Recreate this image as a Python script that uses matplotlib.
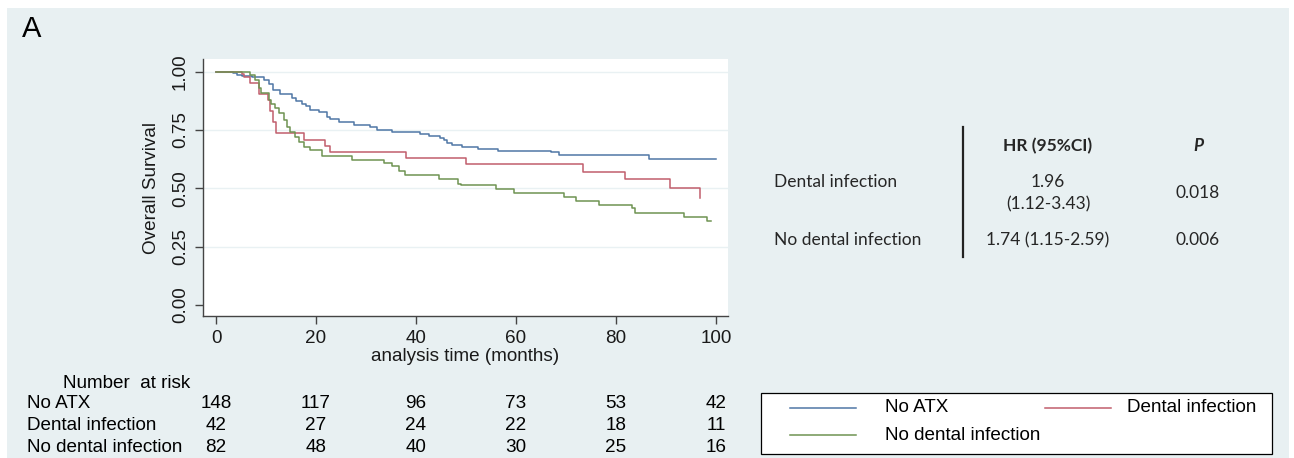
import matplotlib
matplotlib.use("Agg")
import matplotlib.pyplot as plt
import matplotlib.transforms as mtransforms
from matplotlib.patches import Rectangle
from matplotlib.lines import Line2D

W, H = 1294, 458

# Kaplan-Meier steps (months, survival)
t_noatx = [0, 3.3, 4.2, 5.1, 7.1, 9.5, 10.5, 11.3, 12.8, 15.1, 16.0, 17.1, 18.0, 18.8, 20.5,
           22.1, 22.8, 24.5, 27.5, 30.8, 32.1, 35.1, 40.8, 42.5, 44.9, 45.5, 46.3, 47.1,
           49.1, 52.5, 56.5, 67.1, 68.5, 86.5, 100]
s_noatx = [1.0, 0.993, 0.987, 0.981, 0.977, 0.963, 0.949, 0.92, 0.906, 0.888, 0.874, 0.86,
           0.852, 0.835, 0.827, 0.806, 0.799, 0.785, 0.771, 0.764, 0.750, 0.741, 0.732,
           0.724, 0.714, 0.705, 0.695, 0.686, 0.677, 0.668, 0.662, 0.655, 0.642, 0.624, 0.624]

t_dental = [0, 5.1, 5.6, 6.8, 8.5, 10.3, 10.8, 11.3, 12.0, 17.5, 21.8, 22.8, 38.0, 50.0,
            73.3, 81.7, 90.7, 96.8, 96.8]
s_dental = [1.0, 0.99, 0.976, 0.952, 0.905, 0.88, 0.833, 0.786, 0.735, 0.708, 0.682, 0.655,
            0.628, 0.603, 0.571, 0.540, 0.500, 0.500, 0.457]

t_nodental = [0, 6.8, 7.8, 8.5, 9.0, 10.5, 11.0, 11.8, 12.5, 13.5, 14.1, 14.8, 15.8, 16.5,
              17.5, 18.8, 21.1, 27.1, 33.5, 35.1, 36.5, 37.8, 44.5, 48.5, 49.0, 56.0, 59.5,
              69.6, 71.9, 76.6, 83.3, 83.8, 93.5, 98.3, 99.1]
s_nodental = [1.0, 0.986, 0.964, 0.928, 0.907, 0.878, 0.862, 0.843, 0.821, 0.793, 0.764,
              0.743, 0.718, 0.700, 0.676, 0.665, 0.639, 0.622, 0.608, 0.594, 0.573, 0.555,
              0.541, 0.517, 0.513, 0.495, 0.482, 0.464, 0.447, 0.430, 0.414, 0.396, 0.376,
              0.360, 0.360]

groups = ["No ATX", "Dental infection", "No dental infection"]
risk_times = [0, 20, 40, 60, 80, 100]
risk_noatx = [148, 117, 96, 73, 53, 42]
risk_dental = [42, 27, 24, 22, 18, 11]
risk_nodental = [82, 48, 40, 30, 25, 16]

hr_rows = ["Dental infection", "No dental infection"]
hr_text = ["1.96\n(1.12-3.43)", "1.74 (1.15-2.59)"]
p_text = ["0.018", "0.006"]

c_blue = "#4f77a6"
c_red = "#c15e6c"
c_green = "#6f9352"
bg = "#e8f0f2"
fs = 13.6

def fx(px):
    return px / W

def fy(py):
    return 1 - py / H

plt.rcParams["font.family"] = ["Liberation Sans", "DejaVu Sans"]

fig = plt.figure(figsize=(W / 100, H / 100), dpi=100)
fig.patches.append(Rectangle((fx(7), 0), fx(1289) - fx(7), fy(8), transform=fig.transFigure,
                             facecolor=bg, edgecolor="none", zorder=-10))

ax = fig.add_axes([fx(203), fy(316), fx(728) - fx(203), fy(59) - fy(316)])
ax.set_zorder(1)
ax.set_facecolor("white")
ax.set_xlim(-2.6, 102.4)
ax.set_ylim(-0.047, 1.054)
for yv in [0.25, 0.5, 0.75, 1.0]:
    ax.axhline(yv, color="#e9f1f3", lw=1.0, zorder=1)

l1, = ax.step(t_noatx, s_noatx, where="post", color=c_blue, lw=1.1, zorder=3)
l2, = ax.step(t_dental, s_dental, where="post", color=c_red, lw=1.1, zorder=3)
l3, = ax.step(t_nodental, s_nodental, where="post", color=c_green, lw=1.1, zorder=3)

ax.spines["top"].set_visible(False)
ax.spines["right"].set_visible(False)
for sp in ["left", "bottom"]:
    ax.spines[sp].set_color("#444444")
    ax.spines[sp].set_linewidth(1.0)
ax.set_xticks(risk_times)
ax.set_yticks([0, 0.25, 0.5, 0.75, 1.0])
ax.set_yticklabels(["0.00", "0.25", "0.50", "0.75", "1.00"], rotation=90, va="center")
ax.tick_params(axis="both", direction="out", length=6, width=1, color="#444444",
               labelsize=fs, labelcolor="#1a1a1a", pad=4)
ax.set_xlabel("analysis time (months)", fontsize=fs, color="#1a1a1a", labelpad=1)
ax.set_ylabel("Overall Survival", fontsize=fs, color="#1a1a1a", labelpad=9)

fig.text(fx(22), fy(29), "A", fontsize=21, va="center", ha="left")

# number at risk table
blend = mtransforms.blended_transform_factory(ax.transData, fig.transFigure)
fig.text(fx(127), fy(383), "Number  at risk", fontsize=fs, ha="center", va="center")
row_y = [404, 426, 448]
for name, counts, yy in zip(groups, [risk_noatx, risk_dental, risk_nodental], row_y):
    fig.text(fx(27), fy(yy), name, fontsize=fs, ha="left", va="center")
    for tt, n in zip(risk_times, counts):
        ax.text(tt, fy(yy), str(n), transform=blend, fontsize=fs, ha="center", va="center",
                clip_on=False)

# legend (Stata style: fixed box, keys laid out by hand)
fig.patches.append(Rectangle((fx(761), fy(454)), fx(1272) - fx(761), fy(393) - fy(454),
                             transform=fig.transFigure, facecolor="white",
                             edgecolor="black", lw=0.9, zorder=2))
key_pos = [(790, 408), (1045, 408), (790, 435)]
for line, name, (kx, ky) in zip([l1, l2, l3], groups, key_pos):
    fig.add_artist(Line2D([fx(kx), fx(kx + 66)], [fy(ky), fy(ky)], color=line.get_color(),
                          lw=line.get_linewidth(), zorder=3))
    tx = kx + 95 if kx < 900 else kx + 82
    fig.text(fx(tx), fy(ky), name, fontsize=fs, ha="left", va="center", zorder=3)

# hazard ratio table
tfont = ["Lato", "DejaVu Sans"]
tc = "#262626"
fig.add_artist(Line2D([fx(963), fx(963)], [fy(127), fy(257)], color="#222222", lw=1.6))
fig.text(fx(1048), fy(146), "HR (95%CI)", fontsize=12.5, fontweight="bold",
         ha="center", va="center", family=tfont, color=tc)
fig.text(fx(1198), fy(146), "P", fontsize=12.5, fontweight="bold", style="italic",
         ha="center", va="center", family=tfont, color=tc)
for name, hr, p, yy in zip(hr_rows, hr_text, p_text, [193, 240]):
    ny = 182 if "\n" in hr else yy
    fig.text(fx(774), fy(ny), name, fontsize=12.5, ha="left", va="center", family=tfont,
             color=tc)
    fig.text(fx(1048), fy(yy), hr, fontsize=12.5, ha="center", va="center", family=tfont,
             linespacing=1.45, color=tc)
    fig.text(fx(1198), fy(yy), p, fontsize=12.5, ha="center", va="center", family=tfont,
             color=tc)

fig.savefig("out.png", dpi=100)
